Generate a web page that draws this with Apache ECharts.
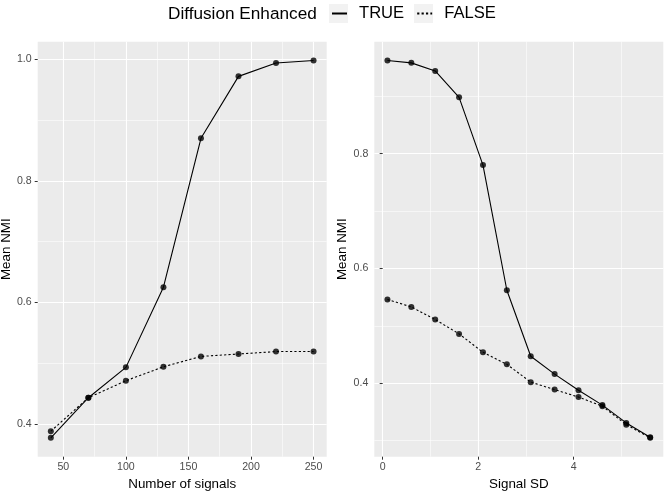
<!DOCTYPE html>
<html>
<head>
<meta charset="utf-8">
<script src="https://cdn.jsdelivr.net/npm/echarts@6/dist/echarts.min.js"></script>
<style>html,body{margin:0;padding:0;background:#fff}#c{width:666px;height:491px}</style>
</head>
<body>
<div id="c"></div>
<script>
// ---- data ----
const leftX = [40, 70, 100, 130, 160, 190, 220, 250];
const leftTrue = [0.377, 0.443, 0.493, 0.625, 0.870, 0.972, 0.994, 0.998];
const leftFalse = [0.388, 0.443, 0.471, 0.494, 0.511, 0.515, 0.519, 0.519];
const rightX = [0.1, 0.6, 1.1, 1.6, 2.1, 2.6, 3.1, 3.6, 4.1, 4.6, 5.1, 5.6];
const rightTrue = [0.962, 0.958, 0.944, 0.898, 0.780, 0.562, 0.447, 0.416, 0.388, 0.362, 0.331, 0.306];
const rightFalse = [0.546, 0.533, 0.511, 0.486, 0.454, 0.433, 0.402, 0.389, 0.376, 0.360, 0.328, 0.305];
const leftXTicks = [50, 100, 150, 200, 250];
const leftXMinor = [75, 125, 175, 225];
const leftYTicks = [0.4, 0.6, 0.8, 1.0];
const leftYMinor = [0.5, 0.7, 0.9];
const rightXTicks = [0, 2, 4];
const rightXMinor = [1, 3, 5];
const rightYTicks = [0.4, 0.6, 0.8];
const rightYMinor = [0.3, 0.5, 0.7, 0.9];
const legendTitle = 'Diffusion Enhanced';
const legendNames = ['TRUE', 'FALSE'];

const FONT = '"Liberation Sans", Arial, sans-serif';
const chart = echarts.init(document.getElementById('c'), null, {renderer: 'canvas'});

function expand(arr) {
  const mn = Math.min(...arr), mx = Math.max(...arr), r = mx - mn;
  return [mn - 0.05 * r, mx + 0.05 * r];
}
const lxr = expand(leftX);
const lyr = expand(leftTrue.concat(leftFalse));
const rxr = expand(rightX);
const ryr = expand(rightTrue.concat(rightFalse));

function majorAxis(type, gridIndex, rng, ticks, name, fmt) {
  const isX = type === 'x';
  return {
    type: 'value', gridIndex, min: rng[0], max: rng[1],
    name, nameLocation: 'middle',
    nameGap: isX ? 13.5 : 25,
    nameRotate: isX ? 0 : 90,
    nameTextStyle: {color: '#000', fontSize: 13.4, fontFamily: FONT},
    axisLine: {show: false},
    axisTick: {show: true, length: 3, lineStyle: {color: '#333', width: 1}, customValues: ticks},
    axisLabel: {show: true, color: '#4D4D4D', fontSize: 10.6, fontFamily: FONT, margin: isX ? 5 : 6,
      customValues: ticks, formatter: fmt},
    splitLine: {show: true, lineStyle: {color: '#fff', width: 1.1}},
    z: 2
  };
}
function minorAxis(gridIndex, rng, ticks) {
  return {
    type: 'value', gridIndex, min: rng[0], max: rng[1],
    axisLine: {show: false},
    axisTick: {show: false, customValues: ticks},
    axisLabel: {show: false, customValues: ticks},
    splitLine: {show: true, lineStyle: {color: '#fff', width: 0.55}},
    z: 1
  };
}
const fmt1 = v => v.toFixed(1);
const fmt0 = v => String(Math.round(v));

function pairs(xs, ys) { return xs.map((x, i) => [x, ys[i]]); }

function lineSeries(name, xi, yi, data, dotted) {
  return {
    type: 'line', name, xAxisIndex: xi, yAxisIndex: yi, data,
    symbol: 'none', animation: false,
    lineStyle: {color: '#000', width: 1.1, type: dotted ? [2.2, 2.2] : 'solid'},
    itemStyle: {color: '#000'}, z: 3
  };
}
function ptSeries(name, xi, yi, data) {
  return {
    type: 'scatter', name, xAxisIndex: xi, yAxisIndex: yi, data,
    symbol: 'circle', symbolSize: 6, animation: false,
    itemStyle: {color: '#000'}, z: 4
  };
}

const option = {
  backgroundColor: '#fff',
  animation: false,
  title: {
    text: legendTitle, left: 168, top: 6, padding: 0,
    textStyle: {fontSize: 17.2, fontWeight: 'normal', color: '#000', fontFamily: FONT}
  },
  legend: {
    data: legendNames, left: 331, top: 5, padding: 0, itemWidth: 15, itemHeight: 19, itemGap: 12,
    textStyle: {fontSize: 16.6, color: '#000', fontFamily: FONT, padding: [0, 0, 0, 7]},
    itemStyle: {color: 'rgba(0,0,0,0)', borderWidth: 0, opacity: 0}
  },
  graphic: [
    {type: 'rect', left: 329, top: 4, z: -1, shape: {width: 19, height: 19}, style: {fill: '#F2F2F2'}},
    {type: 'rect', left: 414, top: 4, z: -1, shape: {width: 19, height: 19}, style: {fill: '#F2F2F2'}}
  ],
  grid: [
    {left: 37.7, top: 41.7, width: 289, height: 415, show: true, backgroundColor: '#EBEBEB', borderWidth: 0,
      containLabel: false, outerBoundsMode: 'none'},
    {left: 374.3, top: 41.7, width: 289, height: 415, show: true, backgroundColor: '#EBEBEB', borderWidth: 0,
      containLabel: false, outerBoundsMode: 'none'}
  ],
  xAxis: [
    majorAxis('x', 0, lxr, leftXTicks, 'Number of signals', fmt0),
    majorAxis('x', 1, rxr, rightXTicks, 'Signal SD', fmt0),
    minorAxis(0, lxr, leftXMinor),
    minorAxis(1, rxr, rightXMinor)
  ],
  yAxis: [
    majorAxis('y', 0, lyr, leftYTicks, 'Mean NMI', fmt1),
    majorAxis('y', 1, ryr, rightYTicks, 'Mean NMI', fmt1),
    minorAxis(0, lyr, leftYMinor),
    minorAxis(1, ryr, rightYMinor)
  ],
  series: [
    lineSeries('TRUE', 0, 0, pairs(leftX, leftTrue), false),
    lineSeries('FALSE', 0, 0, pairs(leftX, leftFalse), true),
    ptSeries('TRUE pts L', 0, 0, pairs(leftX, leftTrue)),
    ptSeries('FALSE pts L', 0, 0, pairs(leftX, leftFalse)),
    lineSeries('TRUE', 1, 1, pairs(rightX, rightTrue), false),
    lineSeries('FALSE', 1, 1, pairs(rightX, rightFalse), true),
    ptSeries('TRUE pts R', 1, 1, pairs(rightX, rightTrue)),
    ptSeries('FALSE pts R', 1, 1, pairs(rightX, rightFalse))
  ]
};
chart.setOption(option);
</script>
</body>
</html>
